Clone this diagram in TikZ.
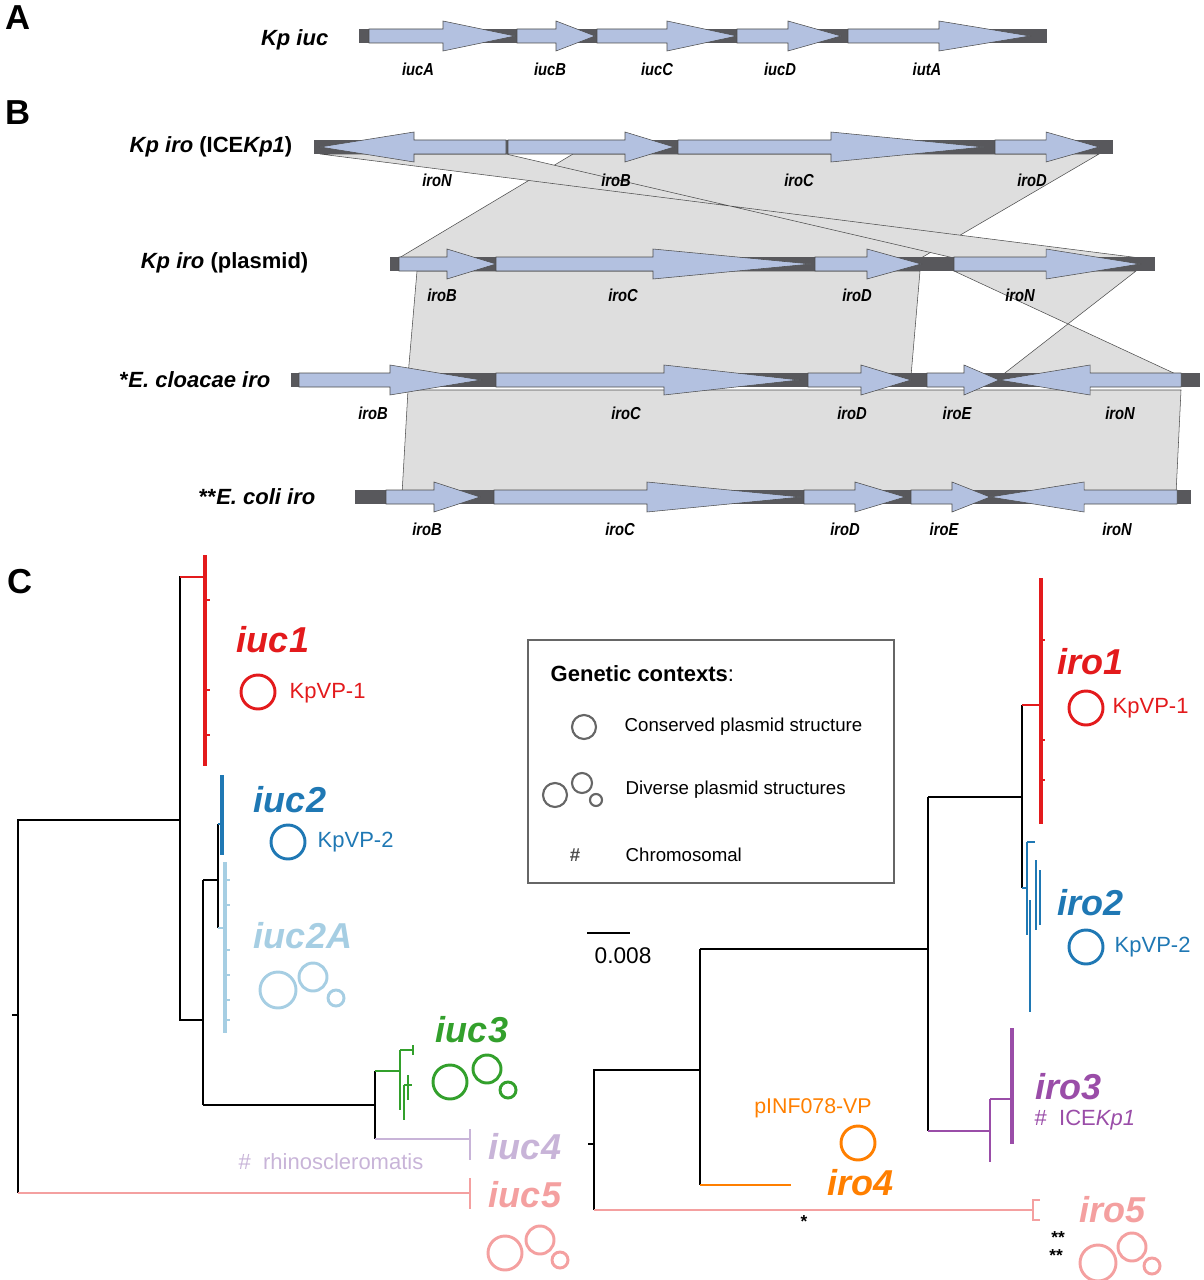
\documentclass[tikz,border=0pt]{standalone}
\usepackage{fontspec}
\setmainfont{Liberation Sans}
\definecolor{genef}{HTML}{B3C1E0}
\definecolor{barc}{HTML}{58585C}
\definecolor{shadec}{HTML}{DEDEDE}
\definecolor{cred}{HTML}{E31A1C}
\definecolor{cblue}{HTML}{1F78B4}
\definecolor{clblue}{HTML}{A6CEE3}
\definecolor{cgreen}{HTML}{33A02C}
\definecolor{clav}{HTML}{C8B4D8}
\definecolor{cpink}{HTML}{F4A0A0}
\definecolor{corange}{HTML}{FF7F00}
\definecolor{cpurple}{HTML}{9A4DA8}
\newcommand\gr[4]{\filldraw[gene] (#1,{#4-7}) -- (#2,{#4-7}) -- (#2,{#4-15}) -- (#3,#4) -- (#2,{#4+15}) -- (#2,{#4+7}) -- (#1,{#4+7}) -- cycle;}
\newcommand\gl[4]{\filldraw[gene] (#3,{#4-7}) -- (#2,{#4-7}) -- (#2,{#4-15}) -- (#1,#4) -- (#2,{#4+15}) -- (#2,{#4+7}) -- (#3,{#4+7}) -- cycle;}
\newcommand\gbar[3]{\fill[barc] (#1,{#3-7}) rectangle (#2,{#3+7});}
\begin{document}
\begin{tikzpicture}[x=0.75pt,y=-0.75pt,
  gene/.style={fill=genef,draw=black!70,line width=0.4pt},
  shade/.style={fill=shadec,draw=black!70,line width=0.4pt},
  gl/.style={font=\fontsize{13}{14}\selectfont\bfseries\itshape,xscale=0.85},
  rl/.style={font=\fontsize{16.5}{18}\selectfont\bfseries,anchor=east},
  pl/.style={font=\fontsize{26}{28}\selectfont\bfseries},
  cl/.style={font=\fontsize{27}{29}\selectfont\bfseries\itshape},
  sl/.style={font=\fontsize{16.5}{18}\selectfont,anchor=west},
  tb/.style={line width=0.8pt},
  tc/.style={line width=2pt},
  tk/.style={line width=3pt},
  ring/.style={line width=2.2pt}]
\useasboundingbox (0,0) rectangle (1203,1280);
% panel letters
\node[pl] (pa) at (18,18) {A};
\node[pl] (pb) at (18,113) {B};
\node[pl] (pc) at (20,582) {C};
% ---------- panel A
\node[rl] (la) at (333,40) {\itshape Kp iuc};
\gbar{359}{1047}{36}
\gr{369}{443}{515}{36}\gr{517}{556}{595}{36}\gr{597}{667}{737}{36}\gr{737}{788}{841}{36}\gr{848}{939}{1030}{36}
\node[gl] (a1) at (418,69) {iucA};
\node[gl] (a2) at (550,69) {iucB};
\node[gl] (a3) at (657,69) {iucC};
\node[gl] (a4) at (780,69) {iucD};
\node[gl] (a5) at (927,69) {iutA};
% ---------- panel B shading
\filldraw[shade] (573,154) -- (1099,154) -- (921,258) -- (399,258) -- cycle;
\filldraw[shade] (320,154) -- (506,154) -- (954,258) -- (1140,258) -- cycle;
\filldraw[shade] (417,271) -- (920,271) -- (911,376) -- (408,376) -- cycle;
\filldraw[shade] (954,271) -- (1136,271) -- (1001,376) -- (1180,376) -- cycle;
\filldraw[shade] (408,390) -- (1181,390) -- (1176,494) -- (402,494) -- cycle;
% rows
\gbar{314}{1113}{147}
\gl{320}{414}{506}{147}\gr{508}{625}{674}{147}\gr{678}{831}{984}{147}\gr{995}{1046}{1099}{147}
\gbar{390}{1155}{264}
\gr{399}{447}{496}{264}\gr{496}{653}{811}{264}\gr{815}{867}{921}{264}\gr{954}{1046}{1140}{264}
\gbar{291}{1200}{380}
\gr{299}{390}{481}{380}\gr{496}{664}{799}{380}\gr{808}{861}{911}{380}\gr{927}{964}{999}{380}\gl{999}{1090}{1181}{380}
\gbar{355}{1191}{497}
\gr{386}{434}{480}{497}\gr{494}{647}{801}{497}\gr{804}{855}{905}{497}\gr{911}{952}{990}{497}\gl{990}{1084}{1177}{497}
\node[rl] (l1) at (297,147) {\itshape Kp iro\upshape{} (ICE\itshape Kp1\upshape)};
\node[rl] (l2) at (313,263) {\itshape Kp iro\upshape{} (plasmid)};
\node[rl] (l3) at (275,380) {*\itshape E. cloacae iro};
\node[rl] (l4) at (320,497) {**\itshape E. coli iro};
\foreach \x/\t [count=\i] in {437/iroN,616/iroB,799/iroC,1032/iroD} \node[gl] (r1\i) at (\x,180) {\t};
\foreach \x/\t [count=\i] in {442/iroB,623/iroC,857/iroD,1020/iroN} \node[gl] (r2\i) at (\x,295) {\t};
\foreach \x/\t [count=\i] in {373/iroB,626/iroC,852/iroD,957/iroE,1120/iroN} \node[gl] (r3\i) at (\x,413) {\t};
\foreach \x/\t [count=\i] in {427/iroB,620/iroC,845/iroD,944/iroE,1117/iroN} \node[gl] (r4\i) at (\x,529) {\t};
% ---------- left tree
\draw[tb] (12,1015) -- (18,1015);
\draw[tb] (180,820) -| (18,1193);
\draw[tc,cpink] (18,1193) -- (470,1193);
\draw[tc,cpink] (470,1178) -- (470,1209);
\draw[tb] (203,577) -- (180,577) -- (180,1020) -- (203,1020);
\draw[tc,cred] (180,577) -- (205,577);
\draw[tk,cred] (205,555) -- (205,766);
\foreach \y in {600,690,735} \draw[tc,cred] (205,\y) -- (210,\y);
\draw[tb] (203,880) -- (203,1105);
\draw[tb] (203,880) -- (218,880);
\draw[tb] (218,824) -- (218,928);
\draw[tc,cblue] (218,824) -- (222,824);
\draw[tk,cblue] (222,775) -- (222,855);
\draw[tc,clblue] (218,928) -- (225,928);
\draw[tk,clblue] (225,862) -- (225,1033);
\foreach \y in {880,905,950,975,1000,1020} \draw[tc,clblue] (225,\y) -- (230,\y);
\draw[tb] (203,1105) -- (375,1105);
\draw[tb] (375,1071) -- (375,1139);
\draw[tc,cgreen] (375,1071) -- (400,1071);
\draw[tc,cgreen] (400,1050) -- (400,1110);
\draw[tc,cgreen] (400,1050) -- (413,1050);
\draw[tc,cgreen] (404,1085) -- (404,1120);
\draw[tc,cgreen] (404,1085) -- (412,1085);
\draw[tc,cgreen] (408,1075) -- (408,1100);
\draw[tc,cgreen] (413,1045) -- (413,1055);
\draw[tc,clav] (375,1139) -- (470,1139);
\draw[tc,clav] (470,1129) -- (470,1160);
\node[cl,cred] (iuc1) at (273,640) {iuc1};
\draw[ring,cred] (258,692) circle (17);
\node[sl,cred] (kv1) at (285,693) {KpVP-1};
\node[cl,cblue] (iuc2) at (290,800) {iuc2};
\draw[ring,cblue] (288,842) circle (17);
\node[sl,cblue] (kv2) at (313,842) {KpVP-2};
\node[cl,clblue] (iuc2a) at (303,936) {iuc2A};
\draw[ring,clblue] (278,990) circle (18) (313,977) circle (14) (336,998) circle (8);
\node[cl,cgreen] (iuc3) at (472,1030) {iuc3};
\draw[ring,cgreen] (450,1082) circle (17) (487,1069) circle (14) (508,1090) circle (8);
\node[cl,clav] (iuc4) at (525,1147) {iuc4};
\node[sl,clav] (rh) at (234,1162) {\#\ \ rhinoscleromatis};
\node[cl,cpink] (iuc5) at (525,1195) {iuc5};
\draw[ring,cpink] (505,1253) circle (17) (540,1240) circle (14) (560,1260) circle (8);
% ---------- legend
\draw[line width=1.2pt,black!60] (528,640) rectangle (894,883);
\node[anchor=west,font=\fontsize{16.5}{18}\selectfont] (lt) at (546,674) {\bfseries Genetic contexts\mdseries:};
\draw[ring,black!60,line width=1.6pt] (584,727) circle (12);
\node[anchor=west,font=\fontsize{14}{15}\selectfont] (lg1) at (620,727) {Conserved plasmid structure};
\draw[ring,black!60,line width=1.6pt] (555,795) circle (12) (582,783) circle (10) (596,800) circle (6);
\node[anchor=west,font=\fontsize{14}{15}\selectfont] (lg2) at (621,790) {Diverse plasmid structures};
\node[font=\fontsize{14}{15}\selectfont\bfseries,black!70] (lg3h) at (575,855) {\#};
\node[anchor=west,font=\fontsize{14}{15}\selectfont] (lg3) at (621,855) {Chromosomal};
\draw[tb] (587,933) -- (630,933);
\node[font=\fontsize{17}{18}\selectfont] (sc) at (623,956) {0.008};
% ---------- right tree
\draw[tb] (588,1144) -- (594,1144);
\draw[tb] (700,1070) -| (594,1210);
\draw[tc,cpink] (594,1210) -- (1033,1210);
\draw[tc,cpink] (1040,1200) -- (1033,1200) -- (1033,1220) -- (1040,1220);
\draw[tb] (700,949) -- (700,1185);
\draw[tc,corange] (700,1185) -- (791,1185);
\draw[tb] (700,949) -- (928,949);
\draw[tb] (928,797) -- (928,1131);
\draw[tb] (928,797) -- (1022,797);
\draw[tb] (1022,705) -- (1022,888);
\draw[tc,cred] (1022,705) -- (1041,705);
\draw[tk,cred] (1041,578) -- (1041,824);
\foreach \y in {640,740,780} \draw[tc,cred] (1041,\y) -- (1045,\y);
\draw[tc,cblue] (1022,888) -- (1027,888);
\draw[tc,cblue] (1027,842) -- (1027,935);
\draw[tc,cblue] (1027,842) -- (1035,842);
\draw[tc,cblue] (1030,900) -- (1030,1012);
\draw[tc,cblue] (1036,860) -- (1036,930);
\draw[tc,cblue] (1040,870) -- (1040,925);
\draw[tc,cpurple] (928,1131) -- (990,1131);
\draw[tc,cpurple] (990,1099) -- (990,1162);
\draw[tc,cpurple] (990,1099) -- (1010,1099);
\draw[tk,cpurple] (1012,1028) -- (1012,1144);
\node[cl,cred] (iro1) at (1090,662) {iro1};
\draw[ring,cred] (1086,708) circle (17);
\node[sl,cred] (kv3) at (1108,708) {KpVP-1};
\node[cl,cblue] (iro2) at (1090,903) {iro2};
\draw[ring,cblue] (1086,947) circle (17);
\node[sl,cblue] (kv4) at (1110,947) {KpVP-2};
\node[cl,cpurple] (iro3) at (1068,1087) {iro3};
\node[sl,cpurple] (ice) at (1030,1120) {\#\ \ ICE\itshape Kp1};
\node[font=\fontsize{16}{17}\selectfont,corange] (pinf) at (813,1108) {pINF078-VP};
\draw[ring,corange] (858,1143) circle (17);
\node[cl,corange] (iro4) at (860,1183) {iro4};
\node[cl,cpink] (iro5) at (1112,1210) {iro5};
\node[font=\fontsize{13}{13}\selectfont\bfseries] (s1) at (1058,1238) {**};
\node[font=\fontsize{13}{13}\selectfont\bfseries] (s2) at (1056,1256) {**};
\node[font=\fontsize{13}{13}\selectfont\bfseries] (s3) at (804,1222) {*};
\draw[ring,cpink] (1098,1263) circle (18) (1132,1247) circle (14) (1152,1266) circle (8);
\end{tikzpicture}
\end{document}
